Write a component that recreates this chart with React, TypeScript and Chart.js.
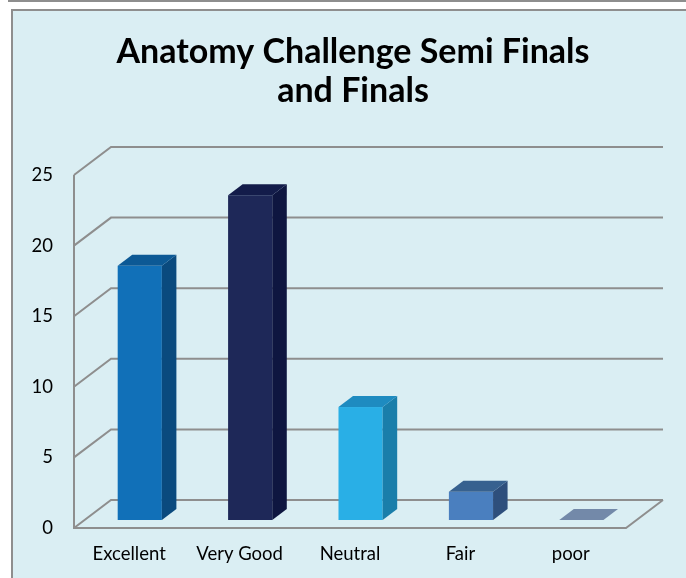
import React, { useEffect, useRef } from 'react';
import { Chart, registerables } from 'chart.js';

Chart.register(...registerables);

const TITLE_LINES = ['Anatomy Challenge Semi Finals', 'and Finals'];
const CATEGORIES = ['Excellent', 'Very Good', 'Neutral', 'Fair', 'poor'];
const VALUES = [18, 23, 8, 2, 0];
const Y_MIN = 0;
const Y_MAX = 25;
const Y_STEP = 5;
const FRONT_COLORS = ['#1170b8', '#1e2858', '#29afe6', '#4a7fbf', '#7088a8'];
const SIDE_COLORS = ['#0a4a7e', '#0e1640', '#1a7eaa', '#2e4f7c', '#5a6f8c'];
const TOP_COLORS = ['#0c5995', '#131c4a', '#1e8bc0', '#37618f', '#7389a9'];

const W = 686;
const H = 578;
const DX = 37; // wall depth x
const DY = 28; // wall depth y
const BAR_OFF = 8 / 28;
const BAR_DEPTH = 11 / 28;
const GRID_COLOR = '#8e8e8e';
const FONT = 'Lato, "Open Sans", sans-serif';

const threeD = {
  id: 'threeD',
  beforeDraw(chart: any) {
    const ctx = chart.ctx;
    ctx.save();
    ctx.fillStyle = '#ffffff';
    ctx.fillRect(0, 0, W, H);
    ctx.fillStyle = '#8e8e8e';
    ctx.fillRect(8, 0, W - 8, 2);
    ctx.fillStyle = '#daeef3';
    ctx.fillRect(11, 9, W - 11, H - 9);
    ctx.fillStyle = '#8e8e8e';
    ctx.fillRect(11, 9, W - 11, 2);
    ctx.fillRect(11, 9, 2, H - 9);
    ctx.fillStyle = '#000000';
    ctx.font = 'bold 34px ' + FONT;
    ctx.textAlign = 'center';
    ctx.textBaseline = 'alphabetic';
    ctx.fillText(TITLE_LINES[0], 353, 63);
    ctx.fillText(TITLE_LINES[1], 353, 102);
    ctx.restore();
  },
  beforeDatasetsDraw(chart: any) {
    const ctx = chart.ctx;
    const { left, right } = chart.chartArea;
    const y = chart.scales.y;
    ctx.save();
    ctx.strokeStyle = GRID_COLOR;
    ctx.lineWidth = 2;
    ctx.lineJoin = 'miter';
    y.ticks.forEach((t: any) => {
      const py = y.getPixelForValue(t.value);
      ctx.beginPath();
      ctx.moveTo(left, py);
      ctx.lineTo(left + DX, py - DY);
      ctx.lineTo(right + DX, py - DY);
      ctx.stroke();
    });
    const top = y.getPixelForValue(Y_MAX);
    const bottom = y.getPixelForValue(Y_MIN);
    ctx.beginPath();
    ctx.moveTo(left, top);
    ctx.lineTo(left, bottom);
    ctx.lineTo(right, bottom);
    ctx.lineTo(right + DX, bottom - DY);
    ctx.stroke();
    ctx.restore();
  },
  afterDatasetsDraw(chart: any) {
    const ctx = chart.ctx;
    const meta = chart.getDatasetMeta(0);
    const ox = BAR_OFF * DX;
    const oy = BAR_OFF * DY;
    const dx = BAR_DEPTH * DX;
    const dy = BAR_DEPTH * DY;
    ctx.save();
    meta.data.forEach((el: any, i: number) => {
      const p = el.getProps(['x', 'y', 'base', 'width'], true);
      const L = p.x - p.width / 2 + ox;
      const R = p.x + p.width / 2 + ox;
      const T = Math.min(p.y, p.base) - oy;
      const B = Math.max(p.y, p.base) - oy;
      if (B - T > 0.5) {
        ctx.fillStyle = FRONT_COLORS[i];
        ctx.fillRect(L, T, R - L, B - T);
        ctx.fillStyle = SIDE_COLORS[i];
        ctx.beginPath();
        ctx.moveTo(R, T);
        ctx.lineTo(R + dx, T - dy);
        ctx.lineTo(R + dx, B - dy);
        ctx.lineTo(R, B);
        ctx.closePath();
        ctx.fill();
      }
      ctx.fillStyle = TOP_COLORS[i];
      ctx.beginPath();
      ctx.moveTo(L, T);
      ctx.lineTo(L + dx, T - dy);
      ctx.lineTo(R + dx, T - dy);
      ctx.lineTo(R, T);
      ctx.closePath();
      ctx.fill();
    });
    ctx.restore();
  },
};

export default function App() {
  const ref = useRef<HTMLCanvasElement | null>(null);
  useEffect(() => {
    if (!ref.current) return;
    const chart = new Chart(ref.current, {
      type: 'bar',
      data: {
        labels: CATEGORIES,
        datasets: [
          {
            data: VALUES,
            backgroundColor: 'rgba(0,0,0,0)',
            borderWidth: 0,
            barPercentage: 0.4,
            categoryPercentage: 1,
          },
        ],
      },
      options: {
        responsive: false,
        animation: false,
        devicePixelRatio: 1,
        layout: { padding: { top: 175, right: 60, left: 0, bottom: 0 } },
        plugins: {
          legend: { display: false },
          title: { display: false },
          tooltip: { enabled: false },
        },
        scales: {
          x: {
            grid: { display: false, drawTicks: false },
            border: { display: false },
            ticks: {
              color: '#000000',
              font: { family: FONT, size: 18.5 },
              padding: 15,
              maxRotation: 0,
              autoSkip: false,
            },
            afterFit(s: any) {
              s.height = 50;
            },
          },
          y: {
            min: Y_MIN,
            max: Y_MAX,
            grid: { display: false, drawTicks: false },
            border: { display: false },
            ticks: {
              stepSize: Y_STEP,
              color: '#000000',
              font: { family: FONT, size: 18.5 },
              padding: 21,
            },
            afterFit(s: any) {
              s.width = 74;
            },
          },
        },
      },
      plugins: [threeD],
    } as any);
    return () => chart.destroy();
  }, []);
  return (
    <div style={{ position: 'absolute', left: 0, top: 0, width: W, height: H }}>
      <canvas ref={ref} width={W} height={H} style={{ display: 'block', width: W, height: H }} />
    </div>
  );
}
